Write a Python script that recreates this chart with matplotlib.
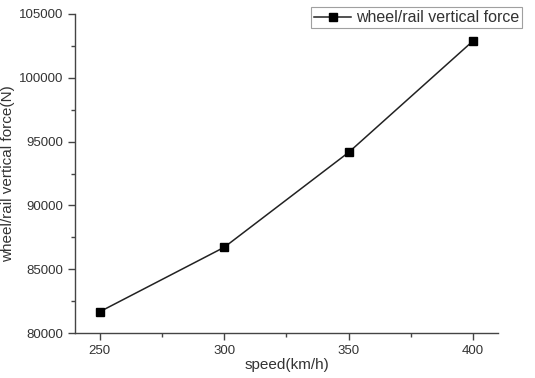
import matplotlib.pyplot as plt
from matplotlib.ticker import MultipleLocator

plt.rcParams['font.family'] = ['Liberation Sans', 'DejaVu Sans']

speed = [250, 300, 350, 400]
force = [81670, 86720, 94160, 102900]

fig = plt.figure(figsize=(5.35, 3.78), dpi=100)
ax = fig.add_axes([0.140, 0.119, 0.791, 0.844])

ax.plot(speed, force, color='#222222', lw=1.1, marker='s', ms=5.5,
        mfc='black', mec='black', label='wheel/rail vertical force')

ax.set_xlim(240, 410)
ax.set_ylim(80000, 105000)
ax.xaxis.set_major_locator(MultipleLocator(50))
ax.xaxis.set_minor_locator(MultipleLocator(25))
ax.yaxis.set_major_locator(MultipleLocator(5000))
ax.yaxis.set_minor_locator(MultipleLocator(2500))

for s in ['top', 'right']:
    ax.spines[s].set_visible(False)
for s in ['left', 'bottom']:
    ax.spines[s].set_color('#444444')
    ax.spines[s].set_linewidth(1.0)

ax.tick_params(which='major', direction='out', length=5, width=1.0,
               color='#444444', labelsize=9.5, labelcolor='#333333')
ax.tick_params(which='minor', direction='out', length=3, width=1.0,
               color='#444444')

ax.set_xlabel('speed(km/h)', fontsize=11, color='#333333', labelpad=1)
ax.set_ylabel('wheel/rail vertical force(N)', fontsize=11, color='#333333',
              labelpad=3)

leg = fig.legend(loc='upper left', bbox_to_anchor=(311 / 535, 1 - 7 / 378),
                 fontsize=11.5, frameon=True, fancybox=False, handlelength=2.3,
                 handletextpad=0.3, borderpad=0.2, borderaxespad=0)
leg.get_frame().set_edgecolor('#888888')
leg.get_frame().set_linewidth(0.8)
for t in leg.get_texts():
    t.set_color('#333333')

fig.savefig('out.png', dpi=100)
